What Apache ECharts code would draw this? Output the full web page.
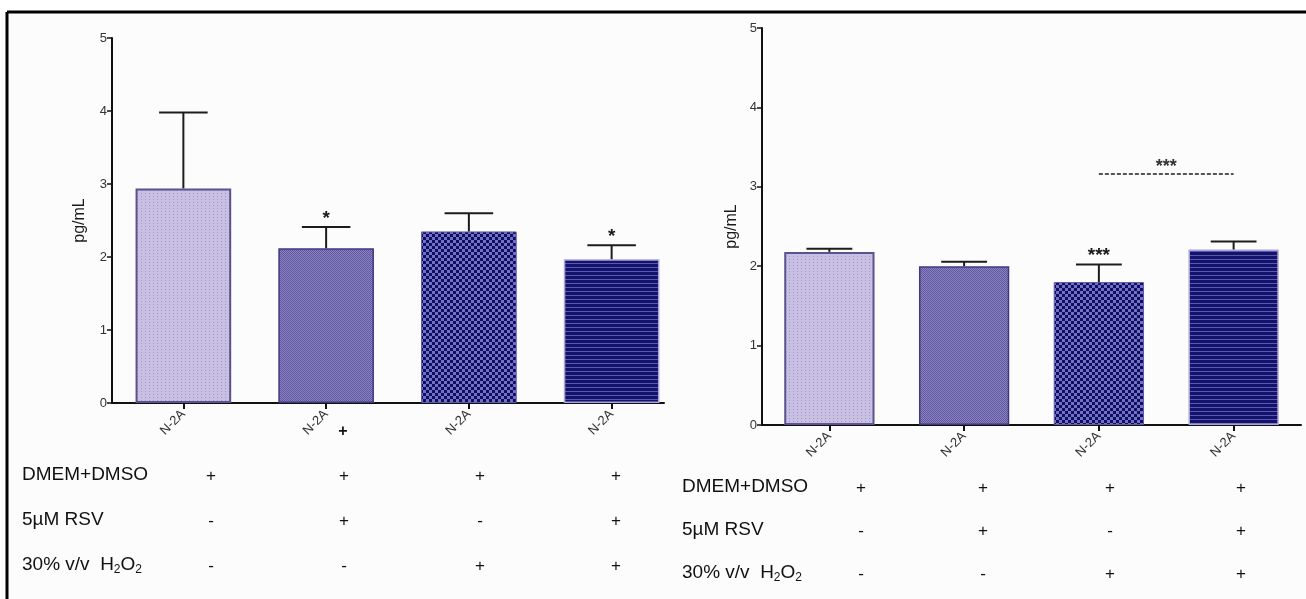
<!DOCTYPE html>
<html>
<head>
<meta charset="utf-8">
<script src="https://cdn.jsdelivr.net/npm/echarts@6/dist/echarts.min.js"></script>
<style>
  html, body { margin: 0; padding: 0; background: #fcfcfc; }
  #chart { width: 1306px; height: 599px; }
</style>
</head>
<body>
<div id="chart"></div>
<script>
// Cell line label under each bar
const categories = ['N-2A', 'N-2A', 'N-2A', 'N-2A'];

// Left panel: mean concentration (pg/mL) and SEM
const leftMean = [2.94, 2.12, 2.35, 1.97];
const leftSem = [1.04, 0.29, 0.25, 0.19];
const leftSig = ['', '*', '', '*'];

// Right panel: mean concentration (pg/mL) and SEM
const rightMean = [2.18, 2.00, 1.80, 2.21];
const rightSem = [0.04, 0.055, 0.22, 0.10];
const rightSig = ['', '', '***', ''];

// Comparison bracket on the right panel (category indices, level)
const bracketFrom = 2;
const bracketTo = 3;
const bracketLevel = 3.16;
const bracketText = '***';

// Treatment table
const rowLabels = ['DMEM+DMSO', '5\u00b5M RSV', '30% v/v  H{s|2}O{s|2}'];
const treatmentSigns = [
  ['+', '+', '+', '+'],
  ['-', '+', '-', '+'],
  ['-', '-', '+', '+']
];

// Y axis scale
const yMin = 0, yMax = 5, yStep = 1;

const FONT = '"Liberation Sans", Arial, sans-serif';

function tile(w, h, draw) {
  const c = document.createElement('canvas');
  c.width = w; c.height = h;
  const g = c.getContext('2d');
  draw(g);
  return { image: c, repeat: 'repeat' };
}

// Fill patterns for the four treatment groups
const fills = [
  tile(4, 3, g => { g.fillStyle = '#c8bfe2'; g.fillRect(0, 0, 4, 3); g.fillStyle = '#a198ca'; g.fillRect(1, 1, 1, 1); }),
  tile(2, 2, g => { g.fillStyle = '#8a83bf'; g.fillRect(0, 0, 2, 2); g.fillStyle = '#5f579f'; g.fillRect(0, 0, 1, 1); g.fillRect(1, 1, 1, 1); }),
  tile(6, 6, g => { g.fillStyle = '#7572bb'; g.fillRect(0, 0, 6, 6); g.fillStyle = '#0d0d6c'; g.fillRect(0, 0, 3, 3); g.fillRect(3, 3, 3, 3); }),
  tile(1, 4, g => { g.fillStyle = '#13136d'; g.fillRect(0, 0, 1, 4); g.fillStyle = '#5a58a8'; g.fillRect(0, 3, 1, 1); })
];
const borders = [
  { color: '#59538f', width: 2 },
  { color: '#3f3982', width: 1.5 },
  { color: '#5d5aa8', width: 1 },
  { color: '#aaa4dc', width: 1.5 }
];

function barData(means) {
  return means.map((v, i) => ({
    value: v,
    itemStyle: { color: fills[i], borderColor: borders[i].color, borderWidth: borders[i].width }
  }));
}

function errorSeries(means, sems, sigs, xi, yi) {
  return {
    type: 'custom',
    xAxisIndex: xi,
    yAxisIndex: yi,
    z: 5,
    silent: true,
    data: means.map((m, i) => [i, m, sems[i]]),
    renderItem: function (params, api) {
      const i = api.value(0), m = api.value(1), s = api.value(2);
      const base = api.coord([i, m]);
      const top = api.coord([i, m + s]);
      const half = api.size([1, 0])[0] * 0.17;
      const children = [
        { type: 'line', shape: { x1: base[0], y1: base[1], x2: top[0], y2: top[1] }, style: { stroke: '#1c1c1c', lineWidth: 2 } },
        { type: 'line', shape: { x1: top[0] - half, y1: top[1], x2: top[0] + half, y2: top[1] }, style: { stroke: '#1c1c1c', lineWidth: 2 } }
      ];
      const sig = sigs[params.dataIndex];
      if (sig) {
        children.push({
          type: 'text', x: top[0], y: top[1] + 1,
          style: { text: sig, fill: '#1a1a1a', font: 'bold 19px ' + FONT, align: 'center', verticalAlign: 'bottom' }
        });
      }
      return { type: 'group', children: children };
    }
  };
}

function yAxisDef(gridIndex, gap) {
  return {
    type: 'value', gridIndex: gridIndex, min: yMin, max: yMax, interval: yStep,
    name: 'pg/mL', nameLocation: 'middle', nameGap: gap,
    nameTextStyle: { fontFamily: FONT, fontSize: 16, color: '#1a1a1a' },
    axisLine: { show: true, lineStyle: { color: '#111', width: 2 } },
    axisTick: { show: true, length: 5, lineStyle: { color: '#111', width: 1.5 } },
    axisLabel: { fontFamily: FONT, fontSize: 13, color: '#333', margin: 5 },
    splitLine: { show: false }
  };
}

function xAxisDef(gridIndex, showLine) {
  return {
    type: 'category', gridIndex: gridIndex, data: categories,
    axisLine: { show: showLine, onZero: false, lineStyle: { color: '#111', width: 2 } },
    axisTick: { show: true, alignWithLabel: true, length: 6, lineStyle: { color: '#111', width: 2 } },
    axisLabel: { rotate: 45, fontFamily: FONT, fontSize: 13, color: '#333', margin: 9 },
    splitLine: { show: false }
  };
}

// Treatment table text elements
function tableText(labelX, colX, rowY) {
  const els = [];
  rowLabels.forEach((lab, r) => {
    els.push({
      type: 'text', left: labelX, top: rowY[r] - 11,
      style: {
        text: lab, fill: '#111', font: '19px ' + FONT,
        rich: { s: { fontSize: 12, fontFamily: FONT, fill: '#111', padding: [10, 0, 0, 0] } }
      }
    });
    treatmentSigns[r].forEach((sg, c) => {
      els.push({
        type: 'text', x: colX[c], y: rowY[r],
        style: { text: sg, fill: '#111', font: '17px ' + FONT, align: 'center', verticalAlign: 'middle' }
      });
    });
  });
  return els;
}

const chart = echarts.init(document.getElementById('chart'), null, { renderer: 'canvas' });

const graphics = [
  { type: 'rect', shape: { x: 0, y: 0, width: 1306, height: 11 }, style: { fill: '#ffffff' }, z: -1 },
  { type: 'line', shape: { x1: 7, y1: 12, x2: 1306, y2: 12 }, style: { stroke: '#000', lineWidth: 3 } },
  { type: 'line', shape: { x1: 7, y1: 12, x2: 7, y2: 599 }, style: { stroke: '#000', lineWidth: 3 } },
  { type: 'text', x: 343, y: 432, style: { text: '+', fill: '#111', font: 'bold 16px ' + FONT, align: 'center', verticalAlign: 'middle' } }
].concat(
  tableText(22, [211, 344, 480, 616], [476, 521, 566]),
  tableText(682, [861, 983, 1110, 1241], [488, 531, 574])
);

chart.setOption({
  backgroundColor: 'transparent',
  animation: false,
  grid: [
    { left: 112, top: 38, width: 571, height: 365 },
    { left: 112, top: 38, width: 552, height: 365 },
    { left: 762, top: 28, width: 539, height: 397 }
  ],
  xAxis: [
    xAxisDef(0, false),
    { type: 'category', gridIndex: 1, data: [''], axisLine: { show: true, lineStyle: { color: '#111', width: 2 } }, axisTick: { show: false }, axisLabel: { show: false } },
    xAxisDef(2, true)
  ],
  yAxis: [
    yAxisDef(0, 24),
    { type: 'value', gridIndex: 1, min: yMin, max: yMax, show: false },
    yAxisDef(2, 22)
  ],
  series: [
    { type: 'bar', xAxisIndex: 0, yAxisIndex: 0, barWidth: '67%', data: barData(leftMean), silent: true },
    errorSeries(leftMean, leftSem, leftSig, 0, 0),
    {
      type: 'bar', xAxisIndex: 2, yAxisIndex: 2, barWidth: '67%', data: barData(rightMean), silent: true,
      markLine: {
        silent: true, symbol: 'none',
        lineStyle: { type: [4, 2], color: '#555', width: 2 },
        label: { show: true, position: 'middle', formatter: bracketText, fontFamily: FONT, fontSize: 18, fontWeight: 'bold', color: '#333', distance: -2 },
        data: [[{ coord: [bracketFrom, bracketLevel] }, { coord: [bracketTo, bracketLevel] }]]
      }
    },
    errorSeries(rightMean, rightSem, rightSig, 2, 2)
  ],
  graphic: graphics
});
</script>
</body>
</html>
